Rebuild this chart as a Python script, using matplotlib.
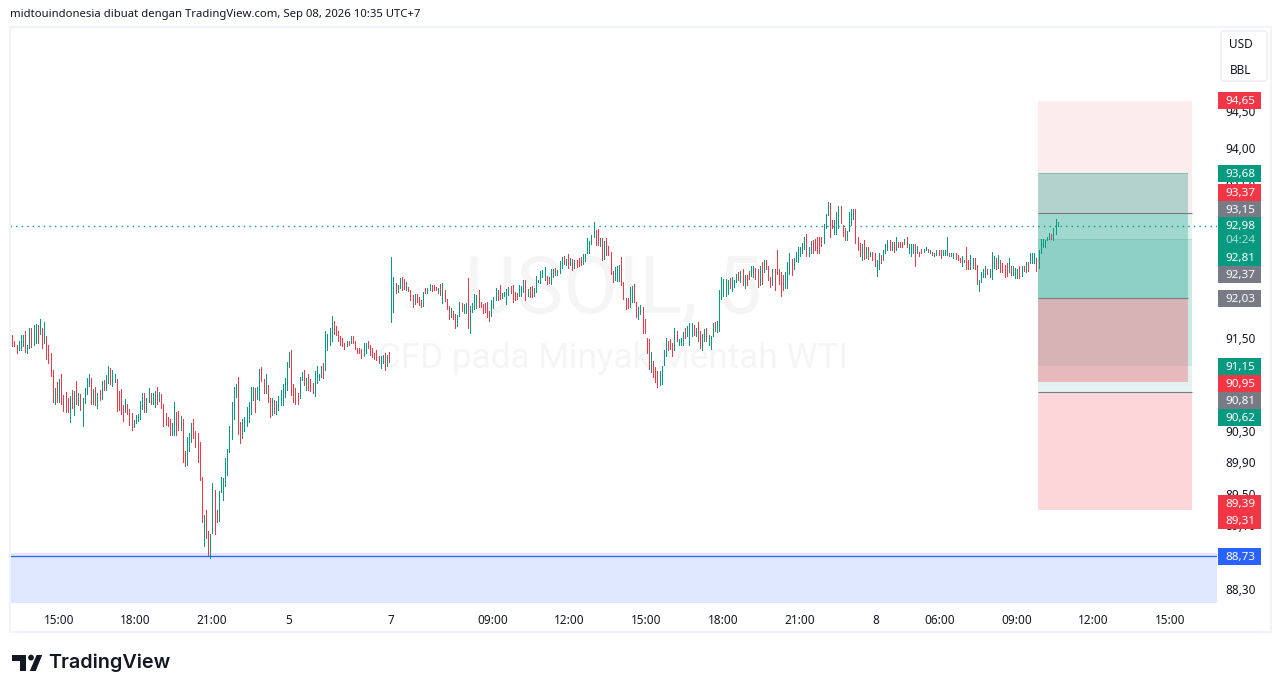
import matplotlib
matplotlib.use("Agg")
import matplotlib.pyplot as plt
from matplotlib.patches import Rectangle, Circle, Polygon, FancyBboxPatch
from matplotlib.ticker import NullLocator
from matplotlib.transforms import ScaledTranslation
import numpy as np

plt.rcParams['font.family'] = ['Noto Sans', 'DejaVu Sans']

GREEN = '#089981'
RED = '#F23645'
GREY = '#787B86'
BLUE = '#2962FF'
INK = '#131722'

# bars, session by session
highs_a = [91.56,91.48,91.42,91.47,91.55,91.55,91.60,91.42,91.64,91.65,
    91.68,91.70,91.68,91.76,91.64,91.72,91.54,91.42,91.32,91.10,
    90.87,90.95,90.98,91.05,90.78,90.82,90.74,90.77,90.84,90.83,
    90.96,90.80,90.79,90.74,90.87,91.00,91.05,91.00,90.86,90.88,
    90.80,90.84,90.96,90.97,91.03,91.15,91.12,91.10,91.05,90.98,
    90.83,90.86,90.65,90.73,90.66,90.60,90.55,90.46,90.52,90.53,
    90.70,90.80,90.80,90.74,90.87,90.80,90.80,90.83,90.88,90.82,
    90.79,90.66,90.55,90.50,90.47,90.42,90.69,90.56,90.57,90.51,
    90.47,90.06,90.24,90.29,90.42,90.47,90.32,90.29,90.17,89.73,
    89.25,89.31,89.04,89.00,89.65,89.56,89.31,89.55,89.73,89.71,
    89.97,90.08,90.38,90.69,90.88,90.92,91.01,90.43,90.47,90.50,
    90.62,90.69,90.88,90.88,90.87,90.88,91.11,91.14,90.98,91.05,
    90.91,90.74,90.74,90.71,90.70,90.77,90.84,90.92,91.00,91.20,
    91.33,91.36,90.92,90.87,90.80,91.01,91.07,91.10,91.00,91.05,
    90.98,90.93,91.09,91.15,91.05,91.15,91.19,91.61,91.57,91.65,
    91.80,91.74,91.67,91.61,91.54,91.52,91.45,91.48,91.48,91.54,
    91.54,91.48,91.39,91.39,91.37,91.45,91.45,91.48,91.43,91.38,
    91.32,91.36,91.28,91.28,91.29,91.32,91.29,91.33]
lows_a = [91.41,91.41,91.32,91.36,91.36,91.41,91.33,91.32,91.39,91.40,
    91.42,91.45,91.45,91.57,91.38,91.45,91.24,91.19,91.02,90.69,
    90.66,90.69,90.69,90.66,90.57,90.56,90.56,90.43,90.61,90.52,
    90.66,90.65,90.59,90.38,90.68,90.79,90.89,90.66,90.66,90.65,
    90.61,90.71,90.73,90.84,90.84,90.93,90.92,90.89,90.95,90.57,
    90.59,90.53,90.44,90.56,90.53,90.39,90.33,90.37,90.42,90.44,
    90.47,90.60,90.56,90.56,90.69,90.66,90.66,90.62,90.66,90.70,
    90.61,90.38,90.39,90.38,90.26,90.26,90.26,90.26,90.33,90.33,
    89.92,89.87,89.88,90.06,90.17,90.23,90.11,89.92,89.69,89.15,
    88.85,88.95,88.72,88.70,89.02,89.00,89.16,89.17,89.53,89.44,
    89.61,89.75,90.05,90.21,90.47,90.75,90.28,90.16,90.23,90.32,
    90.38,90.43,90.53,90.71,90.56,90.73,90.71,90.96,90.80,90.80,
    90.69,90.50,90.52,90.55,90.53,90.59,90.65,90.65,90.75,90.84,
    91.14,90.78,90.69,90.66,90.66,90.74,90.97,90.91,90.84,90.84,
    90.83,90.80,90.77,90.93,90.97,91.01,91.00,91.10,91.36,91.43,
    91.47,91.57,91.55,91.48,91.43,91.41,91.37,91.41,91.43,91.45,
    91.45,91.37,91.32,91.32,91.25,91.28,91.32,91.38,91.29,91.27,
    91.24,91.23,91.19,91.13,91.19,91.10,91.15,91.20]
moves_a = ("RRRGGGRGGR" "GGRGRGRRRR" "GRGRRRRGRG" "RGRGGGGRGR" "GRGRGGRGGR"
    "RRRGRRRGGG" "GGRGGRGGRG" "RRRRRGGRRG" "RRGGGRRRRR" "GRRGGRRGGG"
    "GGGGGGRRGG" "GGGGRGGRRG" "RRGRGGGGGG" "GRRRRGGRGR" "RRGGGGRGGG"
    "GRRRRRRGRG" "RRRRRGGRRR" "RRRGGRGR")

highs_b = [92.57,92.31,92.23,92.20,92.30,92.31,92.28,92.24,92.18,92.14,
    92.07,92.09,92.09,92.05,92.01,92.11,92.17,92.17,92.22,92.20,
    92.20,92.18,92.17,92.22,92.23,92.14,92.02,91.93,91.90,91.86,
    91.83,91.81,91.98,91.97,91.96,91.97,92.30,91.93,91.97,92.09,
    92.07,92.14,91.98,91.96,91.97,91.98,91.86,92.01,92.05,92.17,
    92.14,92.20,92.10,92.11,92.15,92.18,92.19,92.20,92.11,92.10,
    92.20,92.19,92.27,92.27,92.15,92.18,92.19,92.17,92.32,92.27,
    92.39,92.40,92.44,92.32,92.31,92.42,92.42,92.43,92.40,92.52,
    92.57,92.59,92.55,92.61,92.56,92.55,92.53,92.53,92.56,92.57,
    92.61,92.61,92.82,92.78,92.86,93.04,92.93,92.94,92.82,92.82,
    92.78,92.82,92.72,92.64,92.39,92.44,92.45,92.47,92.57,92.24,
    92.03,92.03,92.18,92.19,92.22,91.98,91.92,91.94,91.92,91.76,
    91.52,91.50,91.33,91.21,91.14,91.09,91.09,91.15,91.36,91.51,
    91.48,91.50,91.45,91.64,91.61,91.50,91.52,91.59,91.65,91.67,
    91.71,91.71,91.68,91.64,91.72,91.60,91.57,91.63,91.64,91.55,
    91.54,91.71,91.72,91.73,92.14]
lows_b = [91.72,91.85,92.10,92.11,92.17,92.14,92.15,92.14,92.13,92.01,
    91.92,91.96,91.98,91.94,91.92,91.93,92.10,92.10,92.14,92.13,
    92.14,92.14,92.10,92.07,91.97,92.00,91.89,91.76,91.79,91.76,
    91.65,91.67,91.80,91.86,91.84,91.84,91.65,91.58,91.85,91.89,
    91.90,91.92,91.92,91.84,91.85,91.79,91.73,91.80,91.90,92.01,
    92.01,92.02,92.03,92.06,91.96,92.07,92.10,91.98,92.01,92.02,
    92.06,92.06,92.11,92.01,92.06,92.05,92.05,92.06,92.11,92.24,
    92.23,92.31,92.27,92.22,92.23,92.22,92.31,92.34,92.34,92.36,
    92.43,92.48,92.47,92.43,92.47,92.40,92.43,92.44,92.45,92.47,
    92.48,92.52,92.63,92.63,92.74,92.83,92.73,92.73,92.72,92.53,
    92.55,92.60,92.60,92.35,92.24,92.27,92.26,92.26,92.20,92.02,
    91.89,91.90,91.92,91.98,91.98,91.79,91.76,91.83,91.58,91.58,
    91.32,91.11,91.07,91.01,90.95,90.88,90.91,90.92,91.16,91.28,
    91.36,91.37,91.28,91.36,91.48,91.43,91.43,91.43,91.51,91.54,
    91.42,91.54,91.55,91.54,91.48,91.39,91.36,91.48,91.47,91.42,
    91.37,91.54,91.60,91.59,91.61]
moves_b = ("GGRGGRRGRR" "RGRRRGRGGR" "RRGRGRRRGR" "RGGRGGRGGG" "GRRRRRRGGG"
    "RRGGGGRRRR" "GGGRGRRGGG" "GGGRRGGRGG" "GRGRGRGRRR" "GGGGGGRRGR"
    "GRRRRGGGRR" "RRGGRRGGRR" "RRGRRRGGGG" "RRRGRGGGRG" "GGRGRRGGRG" "GGRGG")

highs_c = [92.31,92.29,92.29,92.27,92.30,92.31,92.27,92.35,92.38,92.39,
    92.41,92.34,92.34,92.39,92.45,92.45,92.43,92.42,92.45,92.51,
    92.53,92.53,92.45,92.31,92.41,92.41,92.67,92.42,92.37,92.34,
    92.37,92.51,92.62,92.55,92.56,92.64,92.70,92.70,92.76,92.84,
    92.87,92.70,92.78,92.80,92.81,92.83,92.83,92.83,93.01,93.14,
    93.30,93.29,93.06,93.06,93.17,93.25,93.25,92.99,92.96,92.91,
    93.16,93.20,93.21,93.21,92.83,92.76,92.74,92.79,92.70,92.70,
    92.64,92.64,92.63,92.53,92.62,92.60,92.67,92.75,92.80,92.79,
    92.77,92.77,92.83,92.77,92.77,92.77,92.81,92.83,92.74,92.74,
    92.74,92.74,92.72,92.64,92.68,92.68,92.71,92.68,92.66,92.64,
    92.63,92.66,92.66,92.66,92.66,92.66,92.84,92.62,92.62,92.62,
    92.62,92.60,92.56,92.58,92.54,92.70,92.54,92.60,92.56,92.56,
    92.47,92.27,92.38,92.42,92.45,92.42,92.42,92.64,92.58,92.56,
    92.60,92.53,92.49,92.47,92.49,92.56,92.46,92.45,92.43,92.42,
    92.45,92.46,92.45,92.51,92.51,92.63,92.63,92.62,92.56,92.67,
    92.81,92.81,92.80,92.83,92.89,92.88,92.95,93.07,93.03]
lows_c = [92.02,92.06,92.06,92.09,92.17,92.13,92.18,92.24,92.27,92.24,
    92.21,92.16,92.21,92.29,92.33,92.31,92.29,92.18,92.20,92.22,
    92.37,92.42,92.27,92.18,92.20,92.14,92.35,92.22,92.06,92.14,
    92.17,92.17,92.35,92.34,92.42,92.52,92.51,92.59,92.63,92.68,
    92.58,92.59,92.63,92.63,92.67,92.62,92.63,92.72,92.76,92.95,
    93.12,92.84,92.96,92.88,92.87,92.95,93.02,92.85,92.79,92.79,
    92.91,92.99,93.07,92.76,92.66,92.59,92.54,92.55,92.56,92.55,
    92.58,92.54,92.46,92.33,92.41,92.50,92.53,92.62,92.66,92.66,
    92.67,92.64,92.67,92.71,92.71,92.70,92.74,92.70,92.62,92.58,
    92.63,92.45,92.63,92.59,92.62,92.64,92.66,92.64,92.62,92.60,
    92.59,92.60,92.60,92.56,92.60,92.60,92.60,92.58,92.58,92.56,
    92.55,92.54,92.51,92.46,92.51,92.41,92.42,92.42,92.43,92.42,
    92.22,92.13,92.25,92.31,92.31,92.35,92.31,92.29,92.43,92.42,
    92.43,92.38,92.37,92.31,92.33,92.38,92.34,92.34,92.30,92.30,
    92.30,92.33,92.39,92.38,92.39,92.49,92.50,92.50,92.39,92.43,
    92.63,92.70,92.70,92.80,92.81,92.81,92.80,92.87,92.98]
moves_c = ("GGGGRGGGRG" "RGRRGGRRGR" "GRRRGRRRRR" "GGGRGGGGGG" "RGGRRRRRGG"
    "GRRGGGRRRG" "GGGRRRGRGR" "GRRGGRGGGR" "GRGRRRGRGG" "GRGRRGGRGR"
    "GGRRGGGRGG" "RRRGRRRGGR" "RGGGGRGGGR" "GRRRRGRGGG" "RGRGRGGGRG" "GGGGGRGGG")

highs = highs_a + highs_b + highs_c
lows = lows_a + lows_b + lows_c
moves = moves_a + moves_b + moves_c

# time axis
time_ticks = [22, 58, 94, 130, 178, 226, 262, 298, 334, 370, 406, 436, 472, 508, 544]
time_labels = ['15:00', '18:00', '21:00', '5', '7', '09:00', '12:00', '15:00', '18:00',
               '21:00', '8', '06:00', '09:00', '12:00', '15:00']

# price axis, only the labels the tags do not bury completely
price_ticks = [88.30, 89.10, 89.50, 89.90, 90.30, 91.50, 93.50, 94.00, 94.50]

last_price = 92.98
support = 88.73
support_top = 88.77

# position tools: (stop, entry, target)
short_tool = (94.65, 93.15, 91.15)
long_tool = (89.31, 90.81, 92.81)
mid_tool = (90.95, 92.03, 93.68)

# price tags down the right edge and the row each one sits on
tag_values = [94.65, 93.68, 93.37, 93.15, 92.98, 92.81, 92.37, 92.03,
              91.15, 90.95, 90.81, 90.62, 89.39, 89.31, 88.73]
tag_colors = [RED, GREEN, RED, GREY, GREEN, GREEN, GREY, GREY,
              GREEN, RED, GREY, GREEN, RED, RED, BLUE]
tag_rows = [100.3, 173.5, 192.5, 209.5, 225.7, 257.3, 274.5, 298.3,
            366.5, 383.5, 400.5, 417.5, 503.5, 520.5, 556.5]

W, H = 1281, 692


def comma(v):
    return f"{v:.2f}".replace('.', ',')


fig = plt.figure(figsize=(W / 100, H / 100), dpi=100, facecolor='white')
ax = fig.add_axes([10 / W, 1 - 603.5 / H, 1207 / W, 576.5 / H])
ax.set_yscale('log')
ax.set_xlim(-1.08, 565.8)
ax.set_ylim(88.13, 95.645)
ax.yaxis.tick_right()
ax.yaxis.set_minor_locator(NullLocator())
ax.yaxis.set_minor_formatter(plt.NullFormatter())
ax.set_yticks(price_ticks, labels=[comma(p) for p in price_ticks])
ax.set_xticks(time_ticks, labels=time_labels)
ax.tick_params(axis='both', length=0, labelsize=8.5, labelcolor=INK)
ax.tick_params(axis='y', pad=6)
ax.tick_params(axis='x', pad=7.5)
for lab in ax.get_yticklabels():
    lab.set_transform(lab.get_transform() + ScaledTranslation(0, 1.3 / 100, fig.dpi_scale_trans))
for lab in ax.get_xticklabels():
    lab.set_transform(lab.get_transform() + ScaledTranslation(-0.5 / 100, 0, fig.dpi_scale_trans))
    if lab.get_text() == '7':
        lab.set_fontweight('bold')
for s in ax.spines.values():
    s.set_visible(False)

# watermark
ax.text(0.5, 0.543, 'USOIL, 5', transform=ax.transAxes, ha='center', va='center',
        fontsize=57, color='#f5f5f6', family='Roboto', zorder=0)
ax.text(0.5, 0.425, 'CFD pada Minyak Mentah WTI', transform=ax.transAxes, ha='center', va='center',
        fontsize=25.3, color='#f5f5f6', family='Roboto', zorder=0)

# support zone
ax.fill_between([-1.08, 565.8], 88.13, support_top, color=BLUE, alpha=0.15, lw=0, zorder=1)
ax.axhline(support, color=BLUE, lw=0.9, zorder=5)

# position tools
wide_l, wide_r, mid_r = 481.5, 554.2, 552.1
ax.fill_between([wide_l, wide_r], short_tool[1], short_tool[0], color=RED, alpha=0.09, lw=0, zorder=2)
ax.fill_between([wide_l, wide_r], short_tool[2], short_tool[1], color=GREEN, alpha=0.11, lw=0, zorder=2)
ax.fill_between([wide_l, wide_r], long_tool[1], long_tool[2], color=GREEN, alpha=0.11, lw=0, zorder=2)
ax.fill_between([wide_l, wide_r], long_tool[0], long_tool[1], color=RED, alpha=0.2, lw=0, zorder=2)
ax.fill_between([wide_l, mid_r], mid_tool[1], mid_tool[2], color=GREEN, alpha=0.3, lw=0, zorder=2)
ax.fill_between([wide_l, mid_r], mid_tool[0], mid_tool[1], color=RED, alpha=0.3, lw=0, zorder=2)
ax.hlines([short_tool[1], long_tool[1]], wide_l, wide_r, color=GREY, lw=0.8, zorder=3)
ax.hlines(mid_tool[1], wide_l, mid_r, color=GREY, lw=0.8, zorder=3)
ax.hlines(mid_tool[2], wide_l, mid_r, color=GREEN, lw=0.7, alpha=0.3, zorder=3)
ax.hlines(long_tool[2], wide_l, wide_r, color=GREEN, lw=0.7, alpha=0.15, zorder=3)

# last price line
ax.axhline(last_price, color=GREEN, lw=1, ls=(0, (1, 3)), zorder=3)

# bars, one crisp pixel wide like the original
xs = np.arange(len(highs))
bar_colors = [GREEN if m == 'G' else RED for m in moves]
bars = ax.vlines(xs, lows, highs, colors=bar_colors, lw=0.72, zorder=4, antialiased=False)
bars.set_snap(True)

# everything outside the plot, in pixel coordinates
px = fig.add_axes([0, 0, 1, 1], zorder=10)
px.set_xlim(0, W)
px.set_ylim(H, 0)
px.axis('off')
px.patch.set_alpha(0)

px.add_patch(Rectangle((10, 27), 1261, 604.5, fill=False, ec='#f0f3fa', lw=1.5))
px.text(10, 15, 'midtouindonesia dibuat dengan TradingView.com, Sep 08, 2026 10:35 UTC+7',
        ha='left', va='center', fontsize=8.15, color=INK)

# unit box
px.add_patch(FancyBboxPatch((1221, 31), 46, 50, boxstyle='round,pad=0,rounding_size=3',
                            fc='white', ec='#e9ecf2', lw=1))
px.text(1240.5, 44.5, 'USD', ha='center', va='center', fontsize=8.5, color=INK)
px.text(1240.5, 70.5, 'BBL', ha='center', va='center', fontsize=8.5, color=INK)

# price tags
for value, col, row in zip(tag_values, tag_colors, tag_rows):
    px.add_patch(Rectangle((1218, row - 8.5), 43, 17, fc=col, ec='none', zorder=3))
    px.text(1240, row + 0.9, comma(value), ha='center', va='center', fontsize=8.4,
            color='white', fontweight='bold', zorder=4)
px.add_patch(Rectangle((1218, 233), 43, 16, fc=GREEN, ec='none', zorder=3))
px.text(1240, 240.5, '04:24', ha='center', va='center', fontsize=8.4, color='#a5dcd1', zorder=4)

# logo
px.add_patch(Polygon([(12.3, 655), (26, 655), (26, 671), (20, 671), (20, 661), (12.3, 661)],
                     fc=INK, ec='none'))
px.add_patch(Circle((31, 657.6), 2.9, fc=INK, ec='none'))
px.add_patch(Polygon([(36.6, 655), (42.2, 655), (35.7, 671), (29.8, 671)], fc=INK, ec='none'))
px.text(48.5, 662.5, 'TradingView', ha='left', va='center', fontsize=14.25, color=INK,
        family='Inter', fontweight='semibold')

fig.savefig('out.png', dpi=100, facecolor='white')
